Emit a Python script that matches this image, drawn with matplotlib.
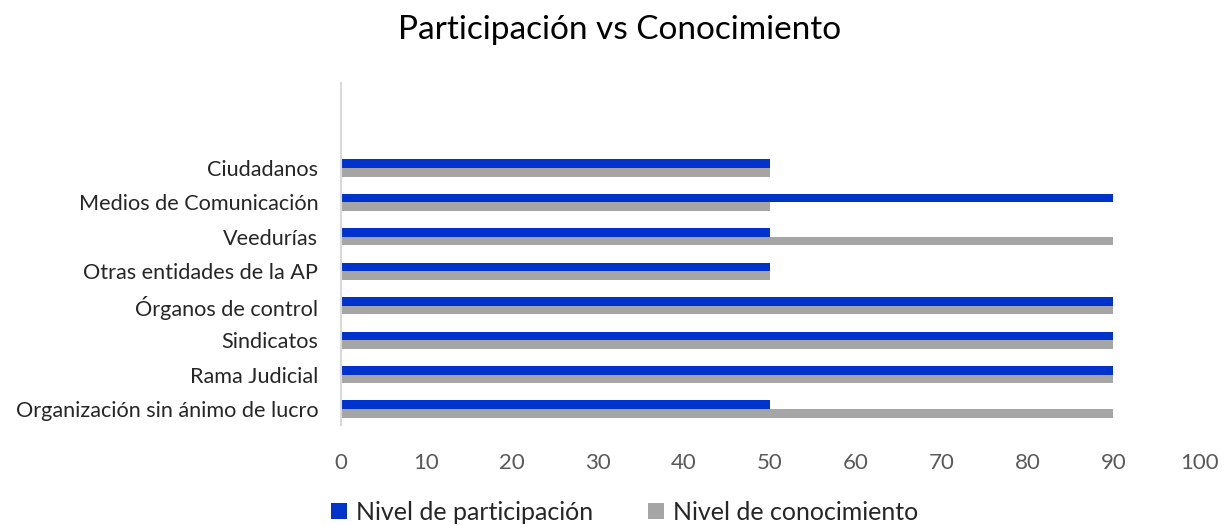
import numpy as np
import matplotlib.pyplot as plt

# --- DADOS ---
categorias = ["Organización sin ánimo de lucro", "Rama Judicial", "Sindicatos",
              "Órganos de control", "Otras entidades de la AP", "Veedurías",
              "Medios de Comunicación", "Ciudadanos"]
participacion = [50, 90, 90, 90, 50, 50, 90, 50]
conocimiento = [90, 90, 90, 90, 50, 90, 50, 50]
xticks = [0, 10, 20, 30, 40, 50, 60, 70, 80, 90, 100]

AZUL = "#0033CC"
GRIS = "#A5A5A5"

plt.rcParams['font.family'] = ['Lato', 'DejaVu Sans']

fig = plt.figure(figsize=(12.25, 5.25), dpi=100)
ax = fig.add_axes([0.278, 0.190, 0.701, 0.652])

y = np.arange(len(categorias))
h = 0.25
ax.barh(y + h / 2, participacion, height=h, color=AZUL, label="Nivel de participación")
ax.barh(y - h / 2, conocimiento, height=h, color=GRIS, label="Nivel de conocimiento")

ax.set_xlim(0, 100)
ax.set_ylim(-0.47, 9.47)
ax.set_xticks(xticks)
ax.set_yticks(y)
ax.set_yticklabels(categorias, fontsize=15.6, color="#262626")
ax.tick_params(axis='x', labelsize=16, labelcolor="#595959", length=0, pad=20)
ax.tick_params(axis='y', length=0, pad=16)

for s in ["top", "right", "bottom"]:
    ax.spines[s].set_visible(False)
ax.spines["left"].set_color("#D9D9D9")
ax.spines["left"].set_linewidth(1.5)

fig.suptitle("Participación vs Conocimiento", x=0.506, y=0.972, fontsize=24, color="black")

fig.legend(loc="center", bbox_to_anchor=(0.51, 0.024), ncol=2,
           frameon=False, fontsize=18, handlelength=0.65, handleheight=0.65,
           handletextpad=0.35, columnspacing=2.2, labelcolor="#262626")

fig.savefig("out.png", dpi=100)
